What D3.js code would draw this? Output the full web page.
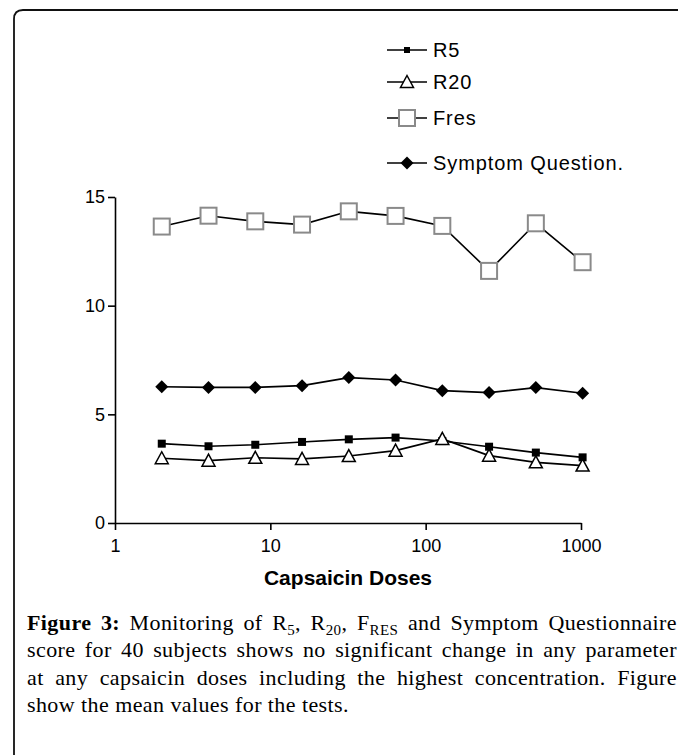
<!DOCTYPE html>
<html>
<head>
<meta charset="utf-8">
<script src="https://cdn.jsdelivr.net/npm/d3@7"></script>
<style>
  body { margin: 0; background: #fff; }
  svg { display: block; }
</style>
</head>
<body>
<script>
const w = 678;
const h = 755;

// capsaicin doses (log axis)
const doses = [2, 4, 8, 16, 32, 64, 128, 256, 512, 1024];
const r5 = [3.65, 3.53, 3.60, 3.73, 3.85, 3.93, 3.77, 3.51, 3.24, 3.02];
const r20 = [2.98, 2.87, 3.0, 2.95, 3.08, 3.33, 3.87, 3.10, 2.79, 2.64];
const fres = [13.64, 14.14, 13.88, 13.73, 14.34, 14.13, 13.67, 11.60, 13.79, 12.0];
const symptom = [6.27, 6.24, 6.24, 6.32, 6.69, 6.58, 6.09, 6.0, 6.23, 5.97];

const xTicks = [1, 10, 100, 1000];
const yTicks = [0, 5, 10, 15];
const seriesNames = ["R5", "R20", "Fres", "Symptom Question."];

const captionLines = [
  "**Figure** **3:** Monitoring of R_{5}, R_{20}, F_{RES} and Symptom Questionnaire",
  "score for 40 subjects shows no significant change in any parameter",
  "at any capsaicin doses including the highest concentration. Figure",
  "show the mean values for the tests."
];

const svg = d3.select("body").append("svg").attr("width", w).attr("height", h);

// frame (top + left with rounded corner)
svg.append("path")
  .attr("d", "M14," + h + " L14,19 Q14,10 23,10 L" + w + ",10")
  .attr("fill", "none")
  .attr("stroke", "#111")
  .attr("stroke-width", 1.8);

const xScale = d3.scaleLog().domain([1, 1000]).range([115, 581]);
const yScale = d3.scaleLinear().domain([0, 15]).range([523, 197]);

// axes
const xAxis = svg.append("g")
  .attr("transform", "translate(0," + yScale(0) + ")")
  .call(d3.axisBottom(xScale).tickValues(xTicks).tickFormat(d3.format("d"))
    .tickSize(7).tickSizeOuter(0).tickPadding(9));
const yAxis = svg.append("g")
  .attr("transform", "translate(" + xScale(1) + ",0)")
  .call(d3.axisLeft(yScale).tickValues(yTicks).tickSize(7).tickSizeOuter(0).tickPadding(3));

[xAxis, yAxis].forEach(g => {
  g.attr("font-size", 18).attr("font-family", "'Liberation Sans', Arial, sans-serif");
  g.selectAll("path, line").attr("stroke", "#000").attr("stroke-width", 1.6);
  g.selectAll("text").attr("fill", "#000");
});

// x-axis label
svg.append("text")
  .attr("x", (xScale(1) + xScale(1000)) / 2)
  .attr("y", 585)
  .attr("text-anchor", "middle")
  .style("font-family", "'Liberation Sans', Arial, sans-serif")
  .style("font-size", "21px")
  .style("font-weight", "bold")
  .text("Capsaicin Doses");

// marker shapes
function drawMarker(g, type, big) {
  if (type === "R5") {
    const s = big ? 8 : 6;
    g.append("rect").attr("x", -s / 2).attr("y", -s / 2).attr("width", s).attr("height", s)
      .attr("fill", "#000");
  } else if (type === "R20") {
    g.append("path").attr("d", "M0,-6.5 L6.5,5.5 L-6.5,5.5 Z")
      .attr("fill", "#fff").attr("stroke", "#000").attr("stroke-width", 1.5);
  } else if (type === "Fres") {
    g.append("rect").attr("x", -8).attr("y", -8).attr("width", 16).attr("height", 16)
      .attr("fill", "#fff").attr("stroke", "#8a8a8a").attr("stroke-width", 2);
  } else {
    g.append("path").attr("d", "M0,-6.5 L6.5,0 L0,6.5 L-6.5,0 Z").attr("fill", "#000");
  }
}

const series = [
  { name: "Fres", values: fres },
  { name: "Symptom Question.", values: symptom },
  { name: "R5", values: r5 },
  { name: "R20", values: r20 }
];

const line = d3.line()
  .x((d, i) => xScale(doses[i]))
  .y(d => yScale(d));

series.forEach(s => {
  svg.append("path")
    .attr("d", line(s.values))
    .attr("fill", "none")
    .attr("stroke", "#000")
    .attr("stroke-width", 1.6);
});

series.forEach(s => {
  svg.selectAll(null)
    .data(s.values)
    .enter()
    .append("g")
    .attr("transform", (d, i) => "translate(" + xScale(doses[i]) + "," + yScale(d) + ")")
    .each(function() { drawMarker(d3.select(this), s.name, true); });
});

// legend
const legendY = [50, 82, 118, 163];
seriesNames.forEach((name, i) => {
  const g = svg.append("g").attr("transform", "translate(407," + legendY[i] + ")");
  g.append("line").attr("x1", -20).attr("x2", 20).attr("stroke", "#000").attr("stroke-width", 1.6);
  drawMarker(g, name, false);
  g.append("text")
    .attr("x", 26)
    .attr("y", 7)
    .style("font-family", "'Liberation Sans', Arial, sans-serif")
    .style("font-size", "20px")
    .style("letter-spacing", "0.9px")
    .text(name);
});

// caption, justified word by word
const capLeft = 27;
const capRight = 677;
const capBase = [630, 657, 685, 712];
const capFont = "'Liberation Serif', 'Times New Roman', serif";

captionLines.forEach((ln, li) => {
  const words = ln.split(" ");
  const nodes = words.map(wd => {
    const bold = wd.startsWith("**");
    const raw = wd.replace(/\*\*/g, "");
    const t = svg.append("text")
      .attr("y", capBase[li])
      .style("font-family", capFont)
      .style("font-size", "22px")
      .style("letter-spacing", "0.4px")
      .style("font-weight", bold ? "bold" : "normal");
    raw.split(/(_\{[^}]*\})/).filter(p => p.length).forEach(p => {
      if (p.startsWith("_{")) {
        t.append("tspan").attr("baseline-shift", "-5").style("font-size", "15px").text(p.slice(2, -1));
      } else {
        t.append("tspan").text(p);
      }
    });
    return t;
  });
  const widths = nodes.map(n => n.node().getComputedTextLength());
  const total = d3.sum(widths);
  const last = li === captionLines.length - 1;
  const gap = last ? 6 : (capRight - capLeft - total) / (nodes.length - 1);
  let x = capLeft;
  nodes.forEach((n, i) => {
    n.attr("x", x);
    x += widths[i] + gap;
  });
});
</script>
</body>
</html>
